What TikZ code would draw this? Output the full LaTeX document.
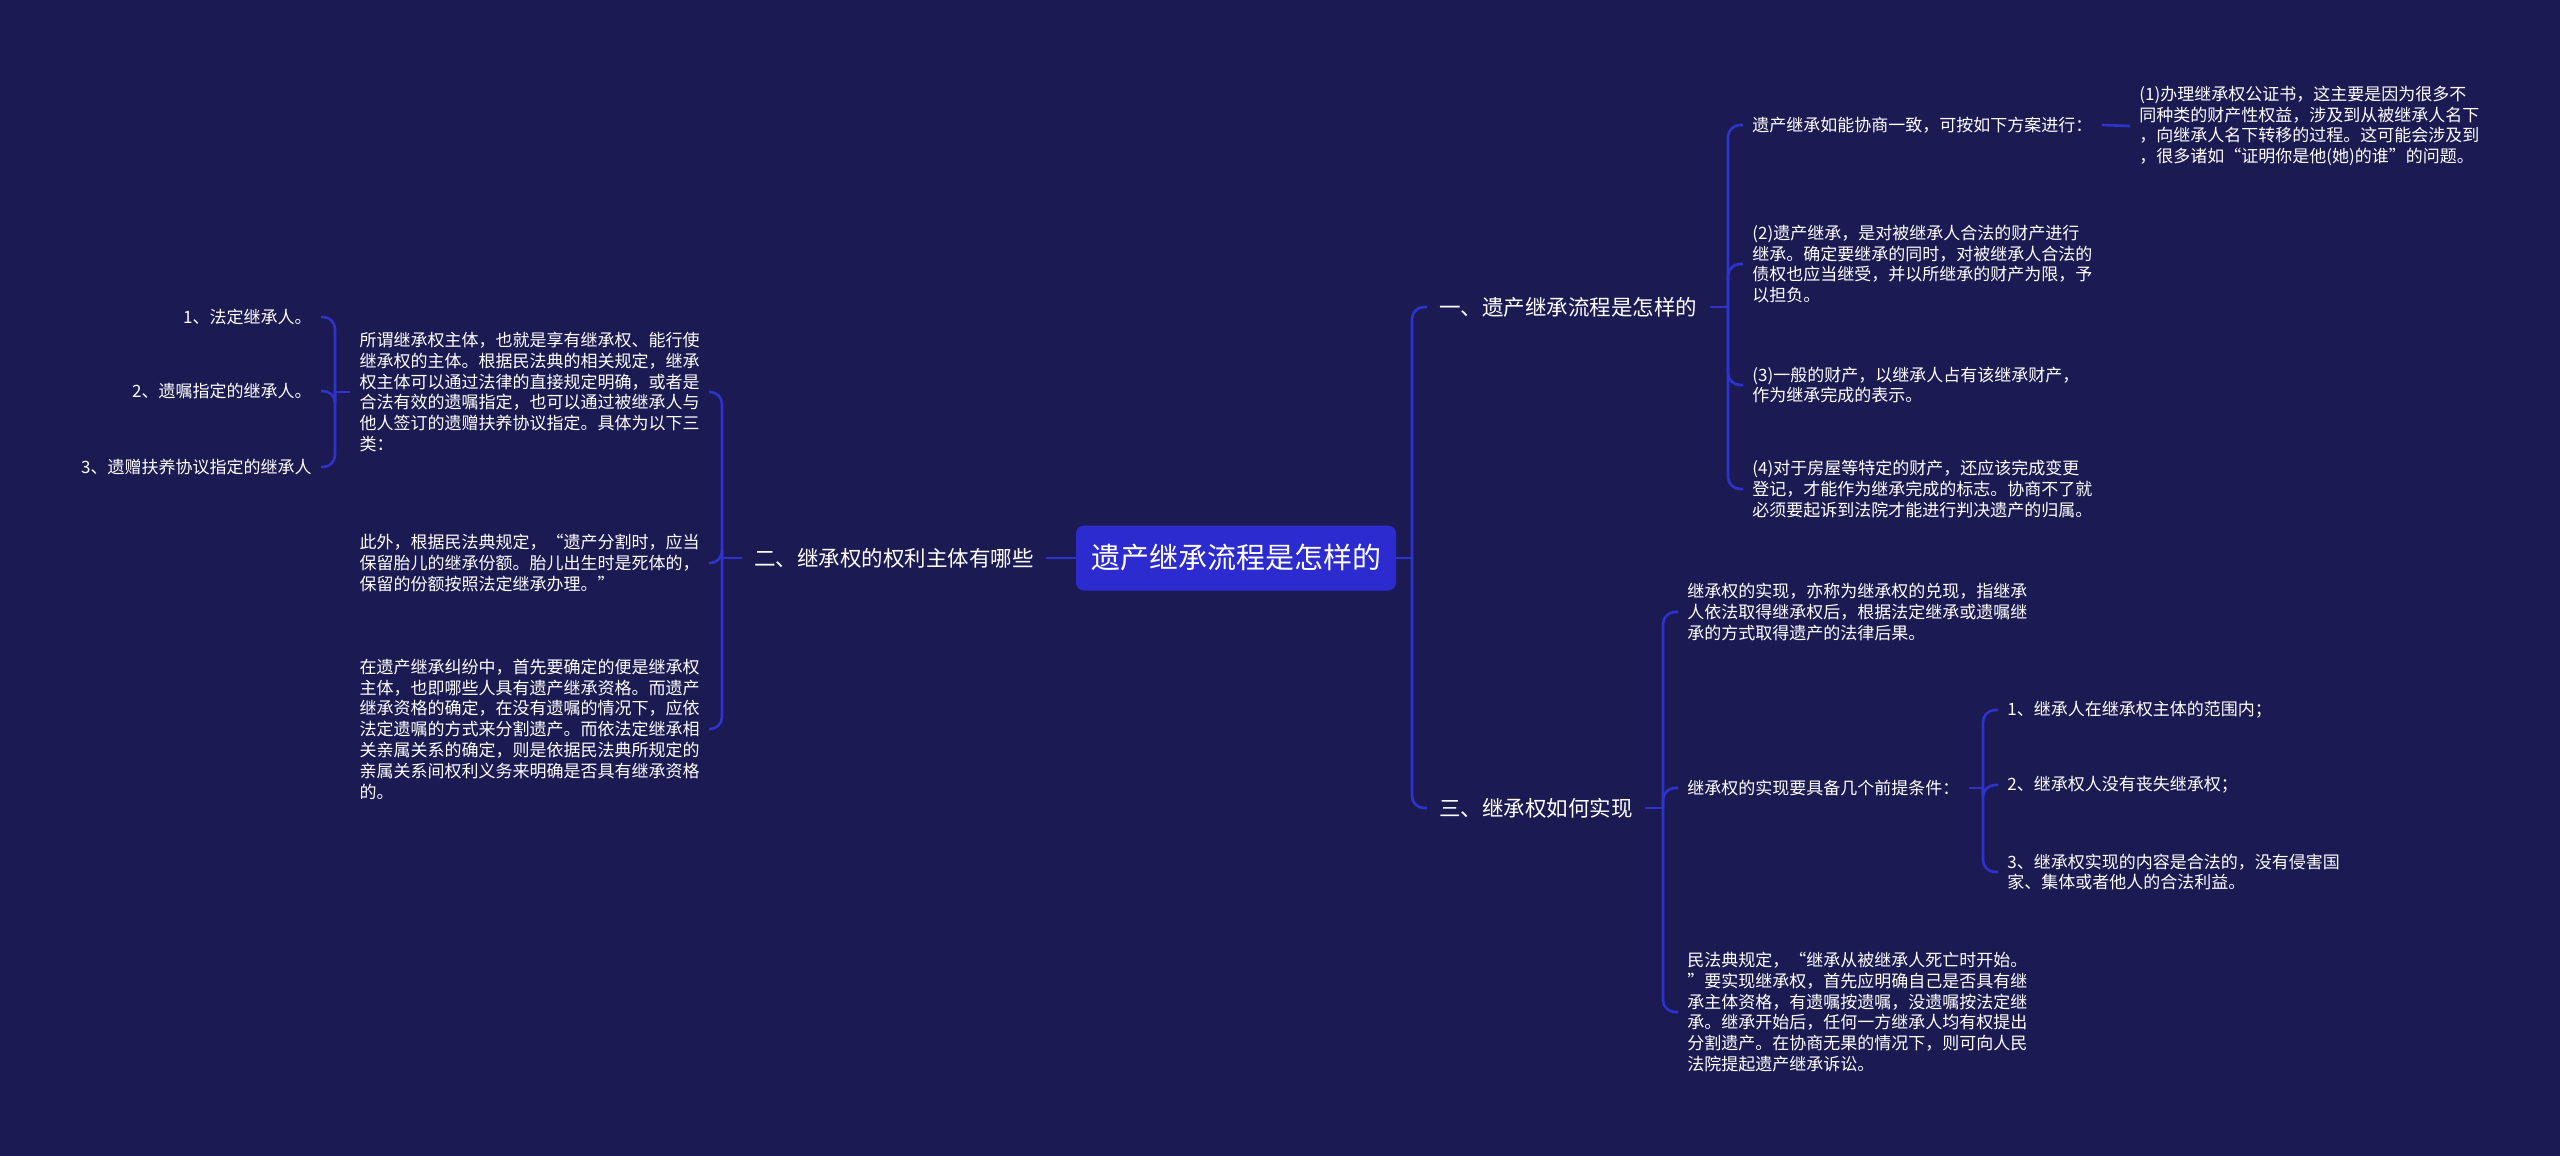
\documentclass[tikz,border=0pt]{standalone}
\usepackage{fontspec}
\setmainfont{Noto Sans CJK SC}
\usetikzlibrary{positioning}
\definecolor{bgnavy}{HTML}{1B1A52}
\definecolor{rootblue}{HTML}{2B2BCF}
\definecolor{linkblue}{HTML}{2E33CC}

\begin{document}
\begin{tikzpicture}[
      x=0.5pt,y=-0.5pt,
      root/.style={rectangle,rounded corners=4pt,fill=rootblue,text=white,font=\fontsize{14.5pt}{17pt}\selectfont,minimum width=160pt,minimum height=32.5pt},
      topic/.style={text=white,font=\fontsize{10.75pt}{13pt}\selectfont,inner xsep=6pt},
      leaf/.style={text=white,font=\fontsize{8.5pt}{10.4pt}\selectfont,align=left,inner xsep=4.5pt,inner ysep=1pt},
      leafr/.style={leaf,align=right,anchor=east},
      link/.style={draw=linkblue,line width=1.3pt,rounded corners=6pt}
    ]
    \fill[bgnavy] (0,0) rectangle (2560,1156);
    \useasboundingbox (0,0) rectangle (2560,1156);

    \node[root] (main) at (1236,558) {遗产继承流程是怎样的};
    \node[topic,anchor=west] (flow) at (1427,307) {一、遗产继承流程是怎样的};
    \node[topic,anchor=east] (subject) at (1046,558) {二、继承权的权利主体有哪些};
    \node[topic,anchor=west] (realize) at (1427,808) {三、继承权如何实现};

    \node[leaf,anchor=west] (agree) at (1743,125) {遗产继承如能协商一致，可按如下方案进行：};
    \node[leaf,anchor=west] (notary) at (2130,126) {(1)办理继承权公证书，这主要是因为很多不\\
      同种类的财产性权益，涉及到从被继承人名下\\
      ，向继承人名下转移的过程。这可能会涉及到\\
      ，很多诸如“证明你是他(她)的谁”的问题。};
    \node[leaf,anchor=west] (debts) at (1743,264) {(2)遗产继承，是对被继承人合法的财产进行\\
      继承。确定要继承的同时，对被继承人合法的\\
      债权也应当继受，并以所继承的财产为限，予\\
      以担负。};
    \node[leaf,anchor=west] (common) at (1743,385) {(3)一般的财产，以继承人占有该继承财产，\\
      作为继承完成的表示。};
    \node[leaf,anchor=west] (house) at (1743,489) {(4)对于房屋等特定的财产，还应该完成变更\\
      登记，才能作为继承完成的标志。协商不了就\\
      必须要起诉到法院才能进行判决遗产的归属。};

    \node[leaf,anchor=east] (define) at (709,392) {所谓继承权主体，也就是享有继承权、能行使\\
      继承权的主体。根据民法典的相关规定，继承\\
      权主体可以通过法律的直接规定明确，或者是\\
      合法有效的遗嘱指定，也可以通过被继承人与\\
      他人签订的遗赠扶养协议指定。具体为以下三\\
      类：};
    \node[leaf,anchor=east] (fetus) at (709,563) {此外，根据民法典规定，“遗产分割时，应当\\
      保留胎儿的继承份额。胎儿出生时是死体的，\\
      保留的份额按照法定继承办理。”};
    \node[leaf,anchor=east] (dispute) at (709,729) {在遗产继承纠纷中，首先要确定的便是继承权\\
      主体，也即哪些人具有遗产继承资格。而遗产\\
      继承资格的确定，在没有遗嘱的情况下，应依\\
      法定遗嘱的方式来分割遗产。而依法定继承相\\
      关亲属关系的确定，则是依据民法典所规定的\\
      亲属关系间权利义务来明确是否具有继承资格\\
      的。};
    \node[leafr] (legal) at (321,317) {1、法定继承人。};
    \node[leafr] (will) at (321,391) {2、遗嘱指定的继承人。};
    \node[leafr] (support) at (321,467) {3、遗赠扶养协议指定的继承人};

    \node[leaf,anchor=west] (meaning) at (1678,612) {继承权的实现，亦称为继承权的兑现，指继承\\
      人依法取得继承权后，根据法定继承或遗嘱继\\
      承的方式取得遗产的法律后果。};
    \node[leaf,anchor=west] (premise) at (1678,788) {继承权的实现要具备几个前提条件：};
    \node[leaf,anchor=west] (lawsuit) at (1678,1012) {民法典规定，“继承从被继承人死亡时开始。\\
      ”要实现继承权，首先应明确自己是否具有继\\
      承主体资格，有遗嘱按遗嘱，没遗嘱按法定继\\
      承。继承开始后，任何一方继承人均有权提出\\
      分割遗产。在协商无果的情况下，则可向人民\\
      法院提起遗产继承诉讼。};
    \node[leaf,anchor=west] (scope) at (1998,710) {1、继承人在继承权主体的范围内；};
    \node[leaf,anchor=west] (notlost) at (1998,785) {2、继承权人没有丧失继承权；};
    \node[leaf,anchor=west] (lawful) at (1998,872) {3、继承权实现的内容是合法的，没有侵害国\\
      家、集体或者他人的合法利益。};

    \coordinate (jmain) at (1412,558);
    \coordinate (jsubj) at (722,558);
    \coordinate (jflow) at (1728,307);
    \coordinate (jreal) at (1663,808);
    \coordinate (jdef) at (335,392);
    \coordinate (jprem) at (1983,788);

    \draw[link] (main.east) -- (jmain);
    \draw[link] (jmain) |- (flow.west);
    \draw[link] (jmain) |- (realize.west);
    \draw[link] (main.west) -- (subject.east);
    \draw[link] (subject.west) -- (jsubj);
    \foreach \n in {define,fetus,dispute}
      \draw[link] (jsubj) |- (\n.east);
    \draw[link] (define.west) -- (jdef);
    \foreach \n in {legal,will,support}
      \draw[link] (jdef) |- (\n.east);
    \draw[link] (flow.east) -- (jflow);
    \foreach \n in {agree,debts,common,house}
      \draw[link] (jflow) |- (\n.west);
    \draw[link] (agree.east) -- (notary.west);
    \draw[link] (realize.east) -- (jreal);
    \foreach \n in {meaning,premise,lawsuit}
      \draw[link] (jreal) |- (\n.west);
    \draw[link] (premise.east) -- (jprem);
    \foreach \n in {scope,notlost,lawful}
      \draw[link] (jprem) |- (\n.west);
  \end{tikzpicture}
\end{document}
